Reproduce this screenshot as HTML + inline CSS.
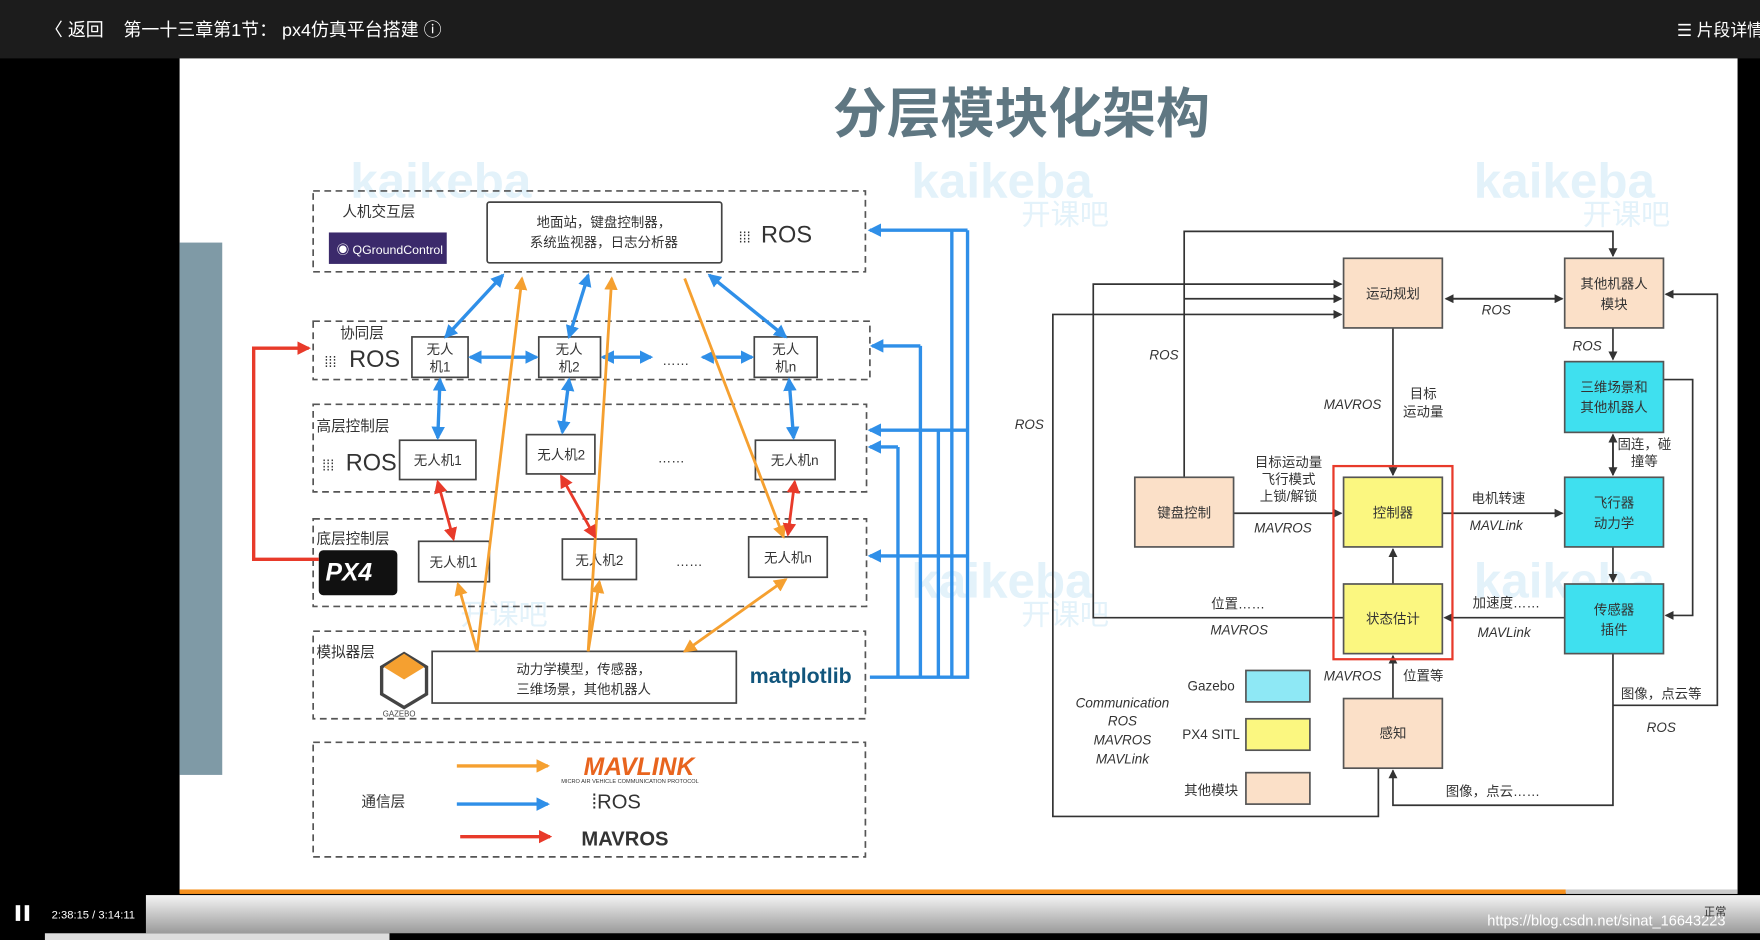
<!DOCTYPE html>
<html><head><meta charset="utf-8">
<style>
html,body{margin:0;padding:0;background:#000;width:1760px;height:940px;overflow:hidden}
svg{display:block}
text{font-family:"Liberation Sans","Noto Sans CJK SC",sans-serif}
</style></head><body>
<svg width="1760" height="940" viewBox="0 0 1568 837" preserveAspectRatio="none" xmlns="http://www.w3.org/2000/svg">
<defs>
<marker id="ak" markerWidth="8" markerHeight="8" refX="7" refY="4" orient="auto" markerUnits="userSpaceOnUse"><path d="M0,0 L8,4 L0,8 z" fill="#333"/></marker>
<marker id="ab" markerWidth="12" markerHeight="12" refX="10" refY="6" orient="auto-start-reverse" markerUnits="userSpaceOnUse"><path d="M0,0 L12,6 L0,12 z" fill="#2f8fe8"/></marker>
<marker id="ao" markerWidth="12" markerHeight="12" refX="10" refY="6" orient="auto-start-reverse" markerUnits="userSpaceOnUse"><path d="M0,0 L12,6 L0,12 z" fill="#f5a030"/></marker>
<marker id="ar" markerWidth="12" markerHeight="12" refX="10" refY="6" orient="auto-start-reverse" markerUnits="userSpaceOnUse"><path d="M0,0 L12,6 L0,12 z" fill="#e83a2a"/></marker>
</defs>
<rect x="0" y="0" width="1568" height="52" fill="#1c1c1c"/>
<text x="40" y="32" fill="#fff" font-size="16">〈 返回</text>
<text x="110" y="32" fill="#fff" font-size="16">第一十三章第1节：  px4仿真平台搭建 ⓘ</text>
<text x="1494" y="32" fill="#fff" font-size="15">☰ 片段详情</text>
<rect x="160" y="52" width="1388" height="743" fill="#fff"/>
<rect x="160" y="216" width="38" height="474" fill="#7f9aa6"/>
<text x="910" y="118" text-anchor="middle" fill="#5f7782" font-size="48" font-weight="bold">分层模块化架构</text>
<g fill="#e3f2fa" font-size="44" font-weight="bold">
<text x="312" y="176">kaikeba</text><text x="812" y="176">kaikeba</text><text x="1313" y="176">kaikeba</text>
<text x="812" y="532">kaikeba</text><text x="1313" y="532">kaikeba</text>
</g>
<g fill="#e3f2fa" font-size="26"><text x="910" y="200">开课吧</text><text x="1410" y="200">开课吧</text><text x="410" y="556">开课吧</text><text x="910" y="556">开课吧</text></g>

<g fill="none" stroke="#555" stroke-width="1.5" stroke-dasharray="6,4">
<rect x="279" y="170" width="492" height="72"/>
<rect x="279" y="286" width="496" height="52"/>
<rect x="279" y="360" width="493" height="78"/>
<rect x="279" y="462" width="493" height="78"/>
<rect x="279" y="562" width="492" height="78"/>
<rect x="279" y="661" width="492" height="102"/>
</g>
<g font-size="13" fill="#333">
<text x="305" y="193">人机交互层</text><text x="303" y="301">协同层</text><text x="282" y="384">高层控制层</text><text x="282" y="484">底层控制层</text><text x="282" y="585">模拟器层</text><text x="322" y="718">通信层</text>
</g>
<g fill="#fff" stroke="#444" stroke-width="1.5">
<rect x="434" y="180" width="209" height="54" rx="2"/>
<rect x="367" y="300" width="50" height="36"/><rect x="480" y="300" width="55" height="36"/><rect x="672" y="300" width="56" height="36"/>
<rect x="356" y="392" width="68" height="35"/><rect x="469" y="387" width="61" height="35"/><rect x="673" y="392" width="71" height="35"/>
<rect x="373" y="482" width="63" height="36"/><rect x="501" y="480" width="66" height="36"/><rect x="667" y="478" width="70" height="36"/>
<rect x="385" y="580" width="271" height="46"/>
</g>
<g font-size="12" fill="#333" text-anchor="middle">
<text x="538" y="202">地面站，键盘控制器，</text><text x="538" y="220">系统监视器，日志分析器</text>
<text x="392" y="315">无人</text><text x="392" y="331">机1</text><text x="507" y="315">无人</text><text x="507" y="331">机2</text><text x="700" y="315">无人</text><text x="700" y="331">机n</text>
<text x="390" y="414">无人机1</text><text x="500" y="409">无人机2</text><text x="708" y="414">无人机n</text>
<text x="404" y="505">无人机1</text><text x="534" y="503">无人机2</text><text x="702" y="501">无人机n</text>
<text x="520" y="600">动力学模型，传感器，</text><text x="520" y="618">三维场景，其他机器人</text>
<text x="602" y="325">……</text><text x="598" y="412">……</text><text x="614" y="504">……</text>
</g>
<rect x="293" y="207" width="105" height="28" fill="#3b2a6b"/>
<text x="300" y="226" fill="#fff" font-size="11">◉ QGroundControl</text>
<g font-size="21" fill="#333"><text x="678" y="216">ROS</text><text x="311" y="327">ROS</text><text x="308" y="419">ROS</text></g>
<g font-size="13" fill="#333"><text x="658" y="216">⁞⁞⁞</text><text x="289" y="327">⁞⁞⁞</text><text x="287" y="419">⁞⁞⁞</text></g>
<rect x="284" y="490" width="70" height="40" rx="4" fill="#111"/>
<text x="290" y="517" fill="#fff" font-size="22" font-style="italic" font-weight="bold">PX4</text>
<path d="M360,582 L380,594 L380,618 L360,630 L340,618 L340,594 z" fill="none" stroke="#444" stroke-width="3"/>
<path d="M360,582 L378,594 L360,605 L342,594 z" fill="#f5a030"/>
<text x="341" y="638" font-size="7" fill="#444">GAZEBO</text>
<text x="668" y="608" font-size="19" fill="#11557c" font-weight="bold">matplotlib</text>
<line x1="407" y1="682" x2="488" y2="682" stroke="#f5a030" stroke-width="3" marker-end="url(#ao)"/>
<line x1="407" y1="716" x2="488" y2="716" stroke="#2f8fe8" stroke-width="3" marker-end="url(#ab)"/>
<line x1="410" y1="745" x2="490" y2="745" stroke="#e83a2a" stroke-width="3" marker-end="url(#ar)"/>
<text x="520" y="690" font-size="22" font-weight="bold" font-style="italic" fill="#e8641e">MAVLINK</text>
<text x="500" y="697" font-size="5" fill="#333">MICRO AIR VEHICLE COMMUNICATION PROTOCOL</text>
<text x="527" y="720" font-size="18" fill="#333">⁞ROS</text>
<text x="518" y="753" font-size="18" fill="#333" font-weight="bold">MAVROS</text>
<path d="M284,498 L226,498 L226,310 L275,310" fill="none" stroke="#e83a2a" stroke-width="3" marker-end="url(#ar)"/>
<g fill="none" stroke="#2f8fe8" stroke-width="3">
<path d="M862,205 L862,603 L775,603"/>
<path d="M848,205 L848,603"/>
<path d="M836,383 L836,603"/>
<path d="M820,308 L820,603"/>
<path d="M800,398 L800,603"/>
<path d="M862,205 L775,205" marker-end="url(#ab)"/>
<path d="M820,308 L777,308" marker-end="url(#ab)"/>
<path d="M862,383 L775,383" marker-end="url(#ab)"/>
<path d="M800,398 L775,398" marker-end="url(#ab)"/>
<path d="M862,495 L775,495" marker-end="url(#ab)"/>
<path d="M397,300 L448,245" marker-start="url(#ab)" marker-end="url(#ab)"/>
<path d="M507,300 L524,245" marker-start="url(#ab)" marker-end="url(#ab)"/>
<path d="M700,300 L632,245" marker-start="url(#ab)" marker-end="url(#ab)"/>
<path d="M419,318 L478,318" marker-start="url(#ab)" marker-end="url(#ab)"/>
<path d="M537,318 L580,318" marker-start="url(#ab)" marker-end="url(#ab)"/>
<path d="M626,318 L670,318" marker-start="url(#ab)" marker-end="url(#ab)"/>
<path d="M392,338 L390,390" marker-start="url(#ab)" marker-end="url(#ab)"/>
<path d="M507,338 L501,385" marker-start="url(#ab)" marker-end="url(#ab)"/>
<path d="M703,338 L707,390" marker-start="url(#ab)" marker-end="url(#ab)"/>
</g>
<g fill="none" stroke="#f5a030" stroke-width="2.5">
<path d="M425,580 L465,248" marker-end="url(#ao)"/>
<path d="M524,580 L545,248" marker-end="url(#ao)"/>
<path d="M698,478 L610,248" marker-start="url(#ao)"/>
<path d="M408,520 L425,580" marker-start="url(#ao)"/>
<path d="M534,518 L524,580" marker-start="url(#ao)"/>
<path d="M700,516 L610,580" marker-start="url(#ao)" marker-end="url(#ao)"/>
</g>
<g fill="none" stroke="#e83a2a" stroke-width="2.5">
<path d="M390,429 L404,480" marker-start="url(#ar)" marker-end="url(#ar)"/>
<path d="M500,424 L530,478" marker-start="url(#ar)" marker-end="url(#ar)"/>
<path d="M708,429 L702,476" marker-start="url(#ar)" marker-end="url(#ar)"/>
</g>

<g fill="none" stroke="#333" stroke-width="1.5">
<path d="M1055,425 L1055,206 L1437,206 L1437,228" marker-end="url(#ak)"/>
<path d="M1055,266 L1195,266" marker-end="url(#ak)"/>
<path d="M1197,550 L974,550 L974,253 L1195,253" marker-end="url(#ak)"/>
<path d="M1228,684 L1228,727 L938,727 L938,280 L1195,280" marker-end="url(#ak)"/>
<path d="M1290,266 L1392,266" marker-end="url(#ak)"/>
<path d="M1392,266 L1288,266" marker-end="url(#ak)"/>
<path d="M1241,292 L1241,423" marker-end="url(#ak)"/>
<path d="M1099,457 L1195,457" marker-end="url(#ak)"/>
<path d="M1285,457 L1392,457" marker-end="url(#ak)"/>
<path d="M1437,292 L1437,320" marker-end="url(#ak)"/>
<path d="M1437,388 L1437,423" marker-end="url(#ak)"/>
<path d="M1437,422 L1437,387" marker-end="url(#ak)"/>
<path d="M1437,487 L1437,518" marker-end="url(#ak)"/>
<path d="M1394,550 L1287,550" marker-end="url(#ak)"/>
<path d="M1241,520 L1241,489" marker-end="url(#ak)"/>
<path d="M1241,622 L1241,584" marker-end="url(#ak)"/>
<path d="M1437,582 L1437,717 L1241,717 L1241,686" marker-end="url(#ak)"/>
<path d="M1437,628 L1530,628 L1530,262 L1484,262" marker-end="url(#ak)"/>
<path d="M1482,338 L1508,338 L1508,548 L1484,548" marker-end="url(#ak)"/>
</g>
<g stroke="#555" stroke-width="1.5">
<rect x="1197" y="230" width="88" height="62" fill="#fbe0c8"/>
<rect x="1394" y="230" width="88" height="62" fill="#fbe0c8"/>
<rect x="1394" y="322" width="88" height="63" fill="#3fe0ef"/>
<rect x="1394" y="425" width="88" height="62" fill="#3fe0ef"/>
<rect x="1394" y="520" width="88" height="62" fill="#3fe0ef"/>
<rect x="1011" y="425" width="88" height="62" fill="#fbe0c8"/>
<rect x="1197" y="425" width="88" height="62" fill="#fbf780"/>
<rect x="1197" y="520" width="88" height="62" fill="#fbf780"/>
<rect x="1197" y="622" width="88" height="62" fill="#fbe0c8"/>
<rect x="1110" y="597" width="57" height="28" fill="#8ee8f5"/>
<rect x="1110" y="640" width="57" height="28" fill="#fbf780"/>
<rect x="1110" y="688" width="57" height="28" fill="#fbe0c8"/>
</g>
<rect x="1188" y="415" width="106" height="172" fill="none" stroke="#e83a2a" stroke-width="2"/>
<g font-size="12" fill="#333" text-anchor="middle">
<text x="1241" y="266">运动规划</text>
<text x="1438" y="257">其他机器人</text><text x="1438" y="275">模块</text>
<text x="1438" y="349">三维场景和</text><text x="1438" y="367">其他机器人</text>
<text x="1438" y="452">飞行器</text><text x="1438" y="470">动力学</text>
<text x="1438" y="547">传感器</text><text x="1438" y="565">插件</text>
<text x="1055" y="461">键盘控制</text>
<text x="1241" y="461">控制器</text>
<text x="1241" y="555">状态估计</text>
<text x="1241" y="657">感知</text>
<text x="1148" y="416">目标运动量</text><text x="1148" y="431">飞行模式</text><text x="1148" y="446">上锁/解锁</text>
<text x="1335" y="448">电机转速</text>
<text x="1268" y="355">目标</text><text x="1268" y="371">运动量</text>
<text x="1465" y="400">固连，碰</text><text x="1465" y="415">撞等</text>
<text x="1103" y="542">位置……</text>
<text x="1342" y="541">加速度……</text>
<text x="1268" y="606">位置等</text>
<text x="1330" y="709">图像，点云……</text>
<text x="1480" y="622">图像，点云等</text>
<text x="1079" y="615">Gazebo</text><text x="1079" y="658">PX4 SITL</text><text x="1079" y="708">其他模块</text>
</g>
<g font-size="12" fill="#333" font-style="italic" text-anchor="middle">
<text x="1333" y="280">ROS</text><text x="1414" y="312">ROS</text><text x="1037" y="320">ROS</text><text x="917" y="382">ROS</text>
<text x="1205" y="364">MAVROS</text><text x="1143" y="474">MAVROS</text><text x="1333" y="472">MAVLink</text>
<text x="1104" y="565">MAVROS</text><text x="1340" y="567">MAVLink</text><text x="1205" y="606">MAVROS</text><text x="1480" y="652">ROS</text>
<text x="1000" y="630">Communication</text><text x="1000" y="646">ROS</text><text x="1000" y="663">MAVROS</text><text x="1000" y="680">MAVLink</text>
</g>

<defs><linearGradient id="pg" x1="0" y1="0" x2="0" y2="1"><stop offset="0" stop-color="#f4f4f4"/><stop offset="1" stop-color="#9a9a9a"/></linearGradient></defs>
<rect x="0" y="795" width="1568" height="42" fill="#000"/>
<rect x="130" y="797" width="1438" height="34" fill="url(#pg)"/>
<rect x="160" y="792" width="1235" height="4" fill="#f5901e"/>
<rect x="1395" y="792" width="153" height="4" fill="#ccc"/>
<rect x="40" y="831" width="307" height="6" fill="#ddd"/>
<rect x="14" y="806" width="4" height="14" fill="#fff"/><rect x="22" y="806" width="4" height="14" fill="#fff"/>
<text x="46" y="818" fill="#fff" font-size="10">2:38:15 / 3:14:11</text>
<text x="1325" y="824" fill="#fff" font-size="13">https://blog.csdn.net/sinat_16643223</text>
<text x="1518" y="815" fill="#333" font-size="10">正常</text>
</svg>
</body></html>
